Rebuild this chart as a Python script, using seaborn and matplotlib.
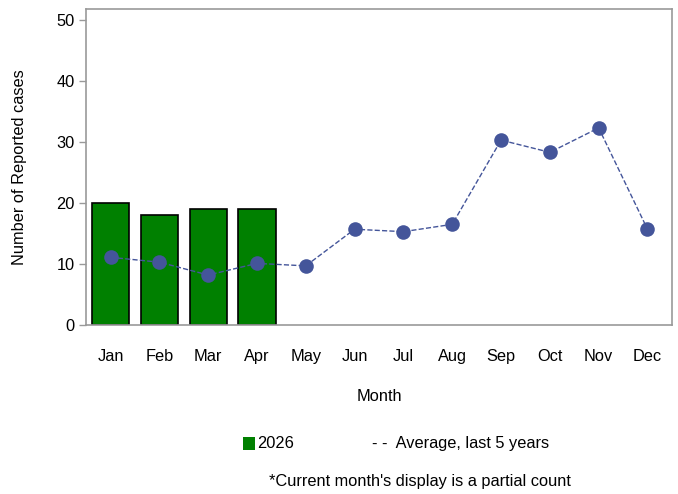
import numpy as np
import pandas as pd
import matplotlib
matplotlib.use('Agg')
import matplotlib.pyplot as plt
from matplotlib.patches import Rectangle
import seaborn as sns

months = ['Jan', 'Feb', 'Mar', 'Apr', 'May', 'Jun', 'Jul', 'Aug', 'Sep', 'Oct', 'Nov', 'Dec']
months_2026 = ['Jan', 'Feb', 'Mar', 'Apr']
cases_2026 = [20, 18, 19, 19]
avg_5yr = [11.1, 10.3, 8.2, 10.1, 9.7, 15.7, 15.3, 16.5, 30.3, 28.3, 32.3, 15.7]
yticks = [0, 10, 20, 30, 40, 50]

sns.set_style('white')
plt.rcParams['font.family'] = ['Liberation Sans', 'DejaVu Sans']
plt.rcParams['text.color'] = 'black'
plt.rcParams['axes.labelcolor'] = 'black'
plt.rcParams['xtick.color'] = 'black'
plt.rcParams['ytick.color'] = 'black'

fs = 11.8
fig = plt.figure(figsize=(6.78, 4.94), dpi=100)
ax = fig.add_axes([0.127, 0.342, 0.864, 0.64])

bars = pd.DataFrame({'month': months_2026, 'cases': cases_2026})
sns.barplot(data=bars, x='month', y='cases', order=months, color='#008000',
            saturation=1, edgecolor='black', linewidth=1.2, width=0.76, ax=ax)

line_col = '#44559a'
sns.lineplot(x=np.arange(len(months)), y=avg_5yr, color=line_col, linestyle='--',
             linewidth=1, marker='o', markersize=10.5, markeredgewidth=0,
             dashes=(6, 4), ax=ax)

ax.set_xlim(-0.5, 11.5)
ax.set_ylim(0, 51.8)
ax.set_yticks(yticks)
ax.set_xticks(range(len(months)))
ax.set_xticklabels(months)
ax.tick_params(axis='x', length=0, pad=17, labelsize=fs)
ax.tick_params(axis='y', length=5, width=1, color='#999999', labelsize=fs, pad=3, left=True)
for s in ax.spines.values():
    s.set_color('#999999')
    s.set_linewidth(1.2)
ax.set_xlabel('Month', fontsize=fs, labelpad=18)
ax.set_ylabel('Number of Reported cases', fontsize=fs, labelpad=21)

# legend drawn by hand in figure coordinates
fig.patches.append(Rectangle((0.358, 0.089), 0.0177, 0.026, facecolor='#008000',
                             edgecolor='none', transform=fig.transFigure))
fig.text(0.379, 0.103, '2026', va='center', fontsize=fs)
fig.text(0.549, 0.103, '- -  Average, last 5 years', va='center', fontsize=fs)
fig.text(0.619, 0.026, "*Current month's display is a partial count", ha='center',
         va='center', fontsize=fs)

fig.savefig('out.png', dpi=100)
